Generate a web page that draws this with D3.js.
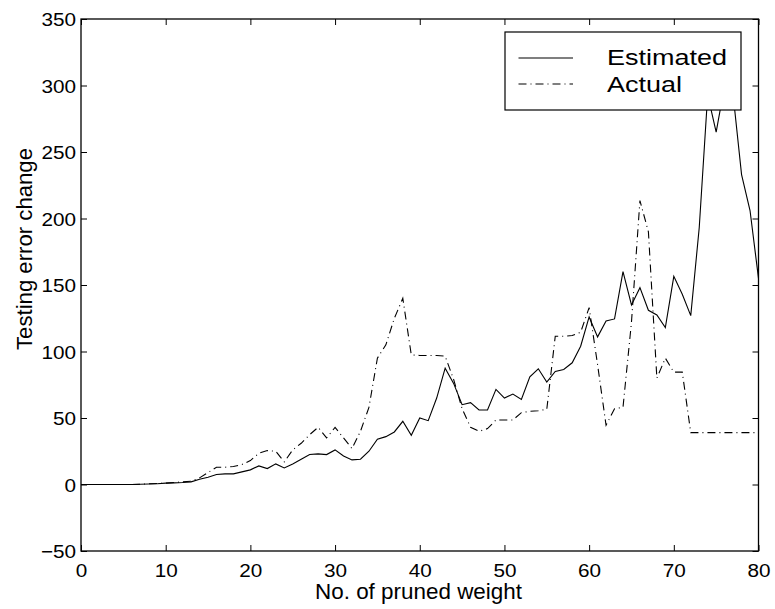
<!DOCTYPE html>
<html>
<head>
<meta charset="utf-8">
<script src="https://cdn.jsdelivr.net/npm/d3@7"></script>
<style>
  html, body { margin: 0; padding: 0; background: #fff; }
  svg { display: block; }
  text { font-family: "Liberation Sans", Arial, Helvetica, sans-serif; fill: #000; }
</style>
</head>
<body>
<svg id="chart" width="775" height="609"></svg>
<script>
// Number of pruned weights (0..80)
const prunedCount = d3.range(0, 81);

// Estimated testing error change
const estimated = [
  0, 0, 0, 0, 0, 0, 0, 0.2, 0.4, 0.6,
  1, 1.2, 1.5, 2, 4, 5.5, 7.5, 8, 8, 9.5,
  11, 14, 12, 15.5, 12.5, 15.5, 19, 22.5, 23, 22.5,
  26, 21.5, 18.5, 19, 25, 34, 36, 39.5, 47.5, 37,
  50, 48, 65, 87.5, 76, 60, 61.5, 56, 56, 71.5,
  65, 68, 64, 81, 87, 77, 85, 86.5, 91.5, 104,
  126, 111, 123, 124.5, 160, 135, 148, 131, 127.5, 118,
  156.5, 143, 127, 193, 293, 265, 300, 293, 233, 206,
  155
];

// Actual testing error change
const actual = [
  0, 0, 0, 0, 0, 0, 0, 0.2, 0.5, 0.8,
  1, 1.5, 2, 2.5, 5, 9, 13, 13, 13.5, 15,
  18, 23.5, 25.5, 25, 17, 26, 31, 37.5, 43, 35,
  43, 35, 27, 40, 58, 95, 105, 125, 140, 97.5,
  97, 97, 97, 96.5, 79, 57, 43, 40, 42, 48.5,
  48.5, 48.5, 54, 55, 55.5, 56.5, 111.5, 111.5, 112, 114.5,
  133, 90, 44.5, 57, 58, 122, 213.5, 190, 80, 95,
  84.5, 84.5, 39, 39, 39, 39, 39, 39, 39, 39,
  39
];

const xTicks = [0, 10, 20, 30, 40, 50, 60, 70, 80];
const yTicks = [-50, 0, 50, 100, 150, 200, 250, 300, 350];
const seriesNames = ["Estimated", "Actual"];

const svg = d3.select("#chart");
const plotL = 81, plotR = 758.5, plotT = 19, plotB = 551;

const x = d3.scaleLinear().domain([0, 80]).range([plotL, plotR]);
const y = d3.scaleLinear().domain([-50, 350]).range([plotB, plotT]);

const tickFont = 18.5;
const tickStretch = 1.12;

// Data lines
const line = (vals) => d3.line()
  .x((d, i) => x(prunedCount[i]))
  .y(d => y(d))(vals);

svg.append("path")
  .attr("d", line(estimated))
  .attr("fill", "none")
  .attr("stroke", "#000")
  .attr("stroke-width", 1.1)
  .attr("stroke-linejoin", "miter");

svg.append("path")
  .attr("d", line(actual))
  .attr("fill", "none")
  .attr("stroke", "#000")
  .attr("stroke-width", 1.1)
  .attr("stroke-dasharray", "8,4,1,4");

// Axes: ticks point inward on all four sides
const axB = svg.append("g").attr("transform", `translate(0,${plotB})`)
  .call(d3.axisBottom(x).tickValues(xTicks).tickSizeInner(-6).tickSizeOuter(0).tickPadding(12.5));
const axL = svg.append("g").attr("transform", `translate(${plotL},0)`)
  .call(d3.axisLeft(y).tickValues(yTicks).tickSizeInner(-6).tickSizeOuter(0).tickPadding(5));
svg.append("g").attr("transform", `translate(0,${plotT})`)
  .call(d3.axisTop(x).tickValues(xTicks).tickSizeInner(-6).tickSizeOuter(0).tickFormat(""));
svg.append("g").attr("transform", `translate(${plotR},0)`)
  .call(d3.axisRight(y).tickValues(yTicks).tickSizeInner(-6).tickSizeOuter(0).tickFormat(""));

svg.selectAll(".domain").remove();
svg.selectAll(".tick line").attr("stroke", "#000").attr("stroke-width", 1);

axB.selectAll("text")
  .style("font-size", tickFont + "px")
  .attr("font-family", null)
  .attr("transform", `scale(${tickStretch},1)`);
axL.selectAll("text")
  .style("font-size", tickFont + "px")
  .attr("font-family", null)
  .attr("x", -5 / tickStretch)
  .attr("dy", "0.36em")
  .attr("transform", `scale(${tickStretch},1)`);

// Frame
svg.append("rect")
  .attr("x", plotL).attr("y", plotT)
  .attr("width", plotR - plotL).attr("height", plotB - plotT)
  .attr("fill", "none").attr("stroke", "#000").attr("stroke-width", 1.3);

// Axis titles
svg.append("text")
  .attr("x", 418.5).attr("y", 599)
  .attr("text-anchor", "middle")
  .attr("textLength", 207).attr("lengthAdjust", "spacingAndGlyphs")
  .style("font-size", "21.5px")
  .text("No. of pruned weight");

svg.append("text")
  .attr("transform", "translate(32,249) rotate(-90)")
  .attr("text-anchor", "middle")
  .attr("textLength", 202).attr("lengthAdjust", "spacingAndGlyphs")
  .style("font-size", "21.5px")
  .text("Testing error change");

// Legend
const lg = svg.append("g");
lg.append("rect")
  .attr("x", 505).attr("y", 32).attr("width", 236).attr("height", 78)
  .attr("fill", "#fff").attr("stroke", "#000").attr("stroke-width", 1.2);
const legendRows = [
  { name: seriesNames[0], dash: null, y: 58, base: 65, len: 120 },
  { name: seriesNames[1], dash: "8,4,1,4", y: 84, base: 91.5, len: 75 }
];
legendRows.forEach(r => {
  lg.append("line")
    .attr("x1", 518.5).attr("x2", 573).attr("y1", r.y).attr("y2", r.y)
    .attr("stroke", "#000").attr("stroke-width", 1.1)
    .attr("stroke-dasharray", r.dash);
  lg.append("text")
    .attr("x", 607).attr("y", r.base)
    .attr("textLength", r.len).attr("lengthAdjust", "spacingAndGlyphs")
    .style("font-size", "21.5px")
    .text(r.name);
});
</script>
</body>
</html>
